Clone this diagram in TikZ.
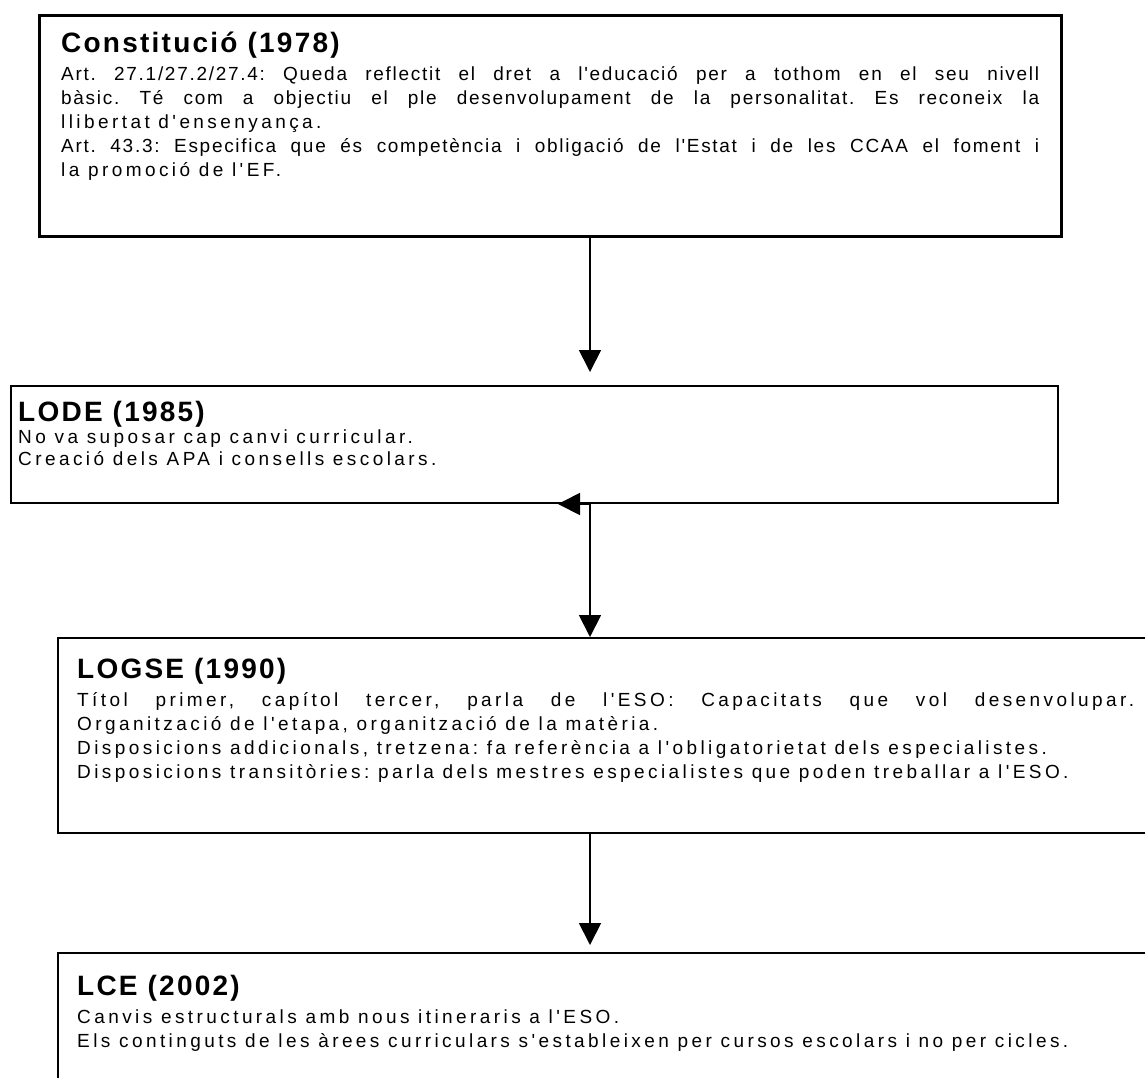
\documentclass[tikz,border=0pt]{standalone}
\usepackage{fontspec}
\setmainfont{Liberation Sans}
\newfontfamily\lawfont[LetterSpace=9]{Liberation Sans}
\newfontfamily\lawwidefont[LetterSpace=18]{Liberation Sans}
\newfontfamily\lawtitlefont[LetterSpace=8]{Liberation Sans}
\usetikzlibrary{positioning,arrows.meta}
\frenchspacing

\tikzset{
  lawbox/.style={draw, line width=2pt, anchor=north west, inner sep=0pt},
  lawtext/.style={inner sep=0pt, align=justify, font=\lawwidefont,
    execute at begin node={\fontsize{19}{#1}\selectfont}},
  lawtext/.default=24pt,
  lawarrow/.style={line width=1.8pt, -{Triangle[width=22pt,length=22pt]}},
}
\newcommand{\lawtitle}[2]{{\lawtitlefont\fontsize{28}{28}\selectfont\bfseries\rule{0pt}{28pt}#1\par}\vspace{#2}}

\begin{document}
\begin{tikzpicture}[x=1pt, y=-1pt]
  \useasboundingbox (0,0) rectangle (1145,1077);
  \clip (0,0) rectangle (1145,1077);

  % boxes
  \node[lawbox, line width=2.6pt, minimum width=1022pt, minimum height=221pt] (const) at (38,14) {};
  \node[lawbox, minimum width=1047pt, minimum height=117pt] (lode) at (10,385) {};
  \node[lawbox, minimum width=1100pt, minimum height=195pt] (logse) at (57,637) {};
  \node[lawbox, minimum width=1100pt, minimum height=200pt] (lce) at (57,952) {};

  % texts (the justified lines of the first box are set tighter)
  \node[lawtext, font=\lawfont, text width=978pt, below right=10pt and 23pt of const.north west] (constText) {%
    \lawtitle{Constitució (1978)}{4pt}%
    Art. 27.1/27.2/27.4: Queda reflectit el dret a l'educació per a tothom en el seu nivell\linebreak
    bàsic. Té com a objectiu el ple desenvolupament de la personalitat. Es reconeix la\linebreak
    {\lawwidefont llibertat d'ensenyança.}\par
    Art. 43.3: Especifica que és competència i obligació de l'Estat i de les CCAA el foment i\linebreak
    {\lawwidefont la promoció de l'EF.}};
  \node[lawtext=22pt, text width=1020pt, below right=8pt and 8pt of lode.north west] (lodeText) {%
    \lawtitle{LODE (1985)}{0pt}%
    No va suposar cap canvi curricular.\par
    Creació dels APA i consells escolars.};
  \node[lawtext, text width=1057pt, below right=13pt and 20pt of logse.north west] (logseText) {%
    \lawtitle{LOGSE (1990)}{4pt}%
    Títol primer, capítol tercer, parla de l'ESO: Capacitats que vol desenvolupar.\linebreak
    Organització de l'etapa, organització de la matèria.\par
    Disposicions addicionals, tretzena: fa referència a l'obligatorietat dels especialistes.\par
    Disposicions transitòries: parla dels mestres especialistes que poden treballar a l'ESO.};
  \node[lawtext, text width=1057pt, below right=15pt and 20pt of lce.north west] (lceText) {%
    \lawtitle{LCE (2002)}{4pt}%
    Canvis estructurals amb nous itineraris a l'ESO.\par
    Els continguts de les àrees curriculars s'estableixen per cursos escolars i no per cicles.};

  % arrows
  \coordinate (spine) at (590,0);
  \draw[lawarrow, shorten >=13pt] (const.south -| spine) -- (lode.north -| spine);
  \draw[lawarrow] (lode.south -| spine) -- (logse.north -| spine);
  \draw[lawarrow] (lode.south -| spine) -- ++(-32,0);
  \draw[lawarrow, shorten >=7pt] (logse.south -| spine) -- (lce.north -| spine);
\end{tikzpicture}
\end{document}
